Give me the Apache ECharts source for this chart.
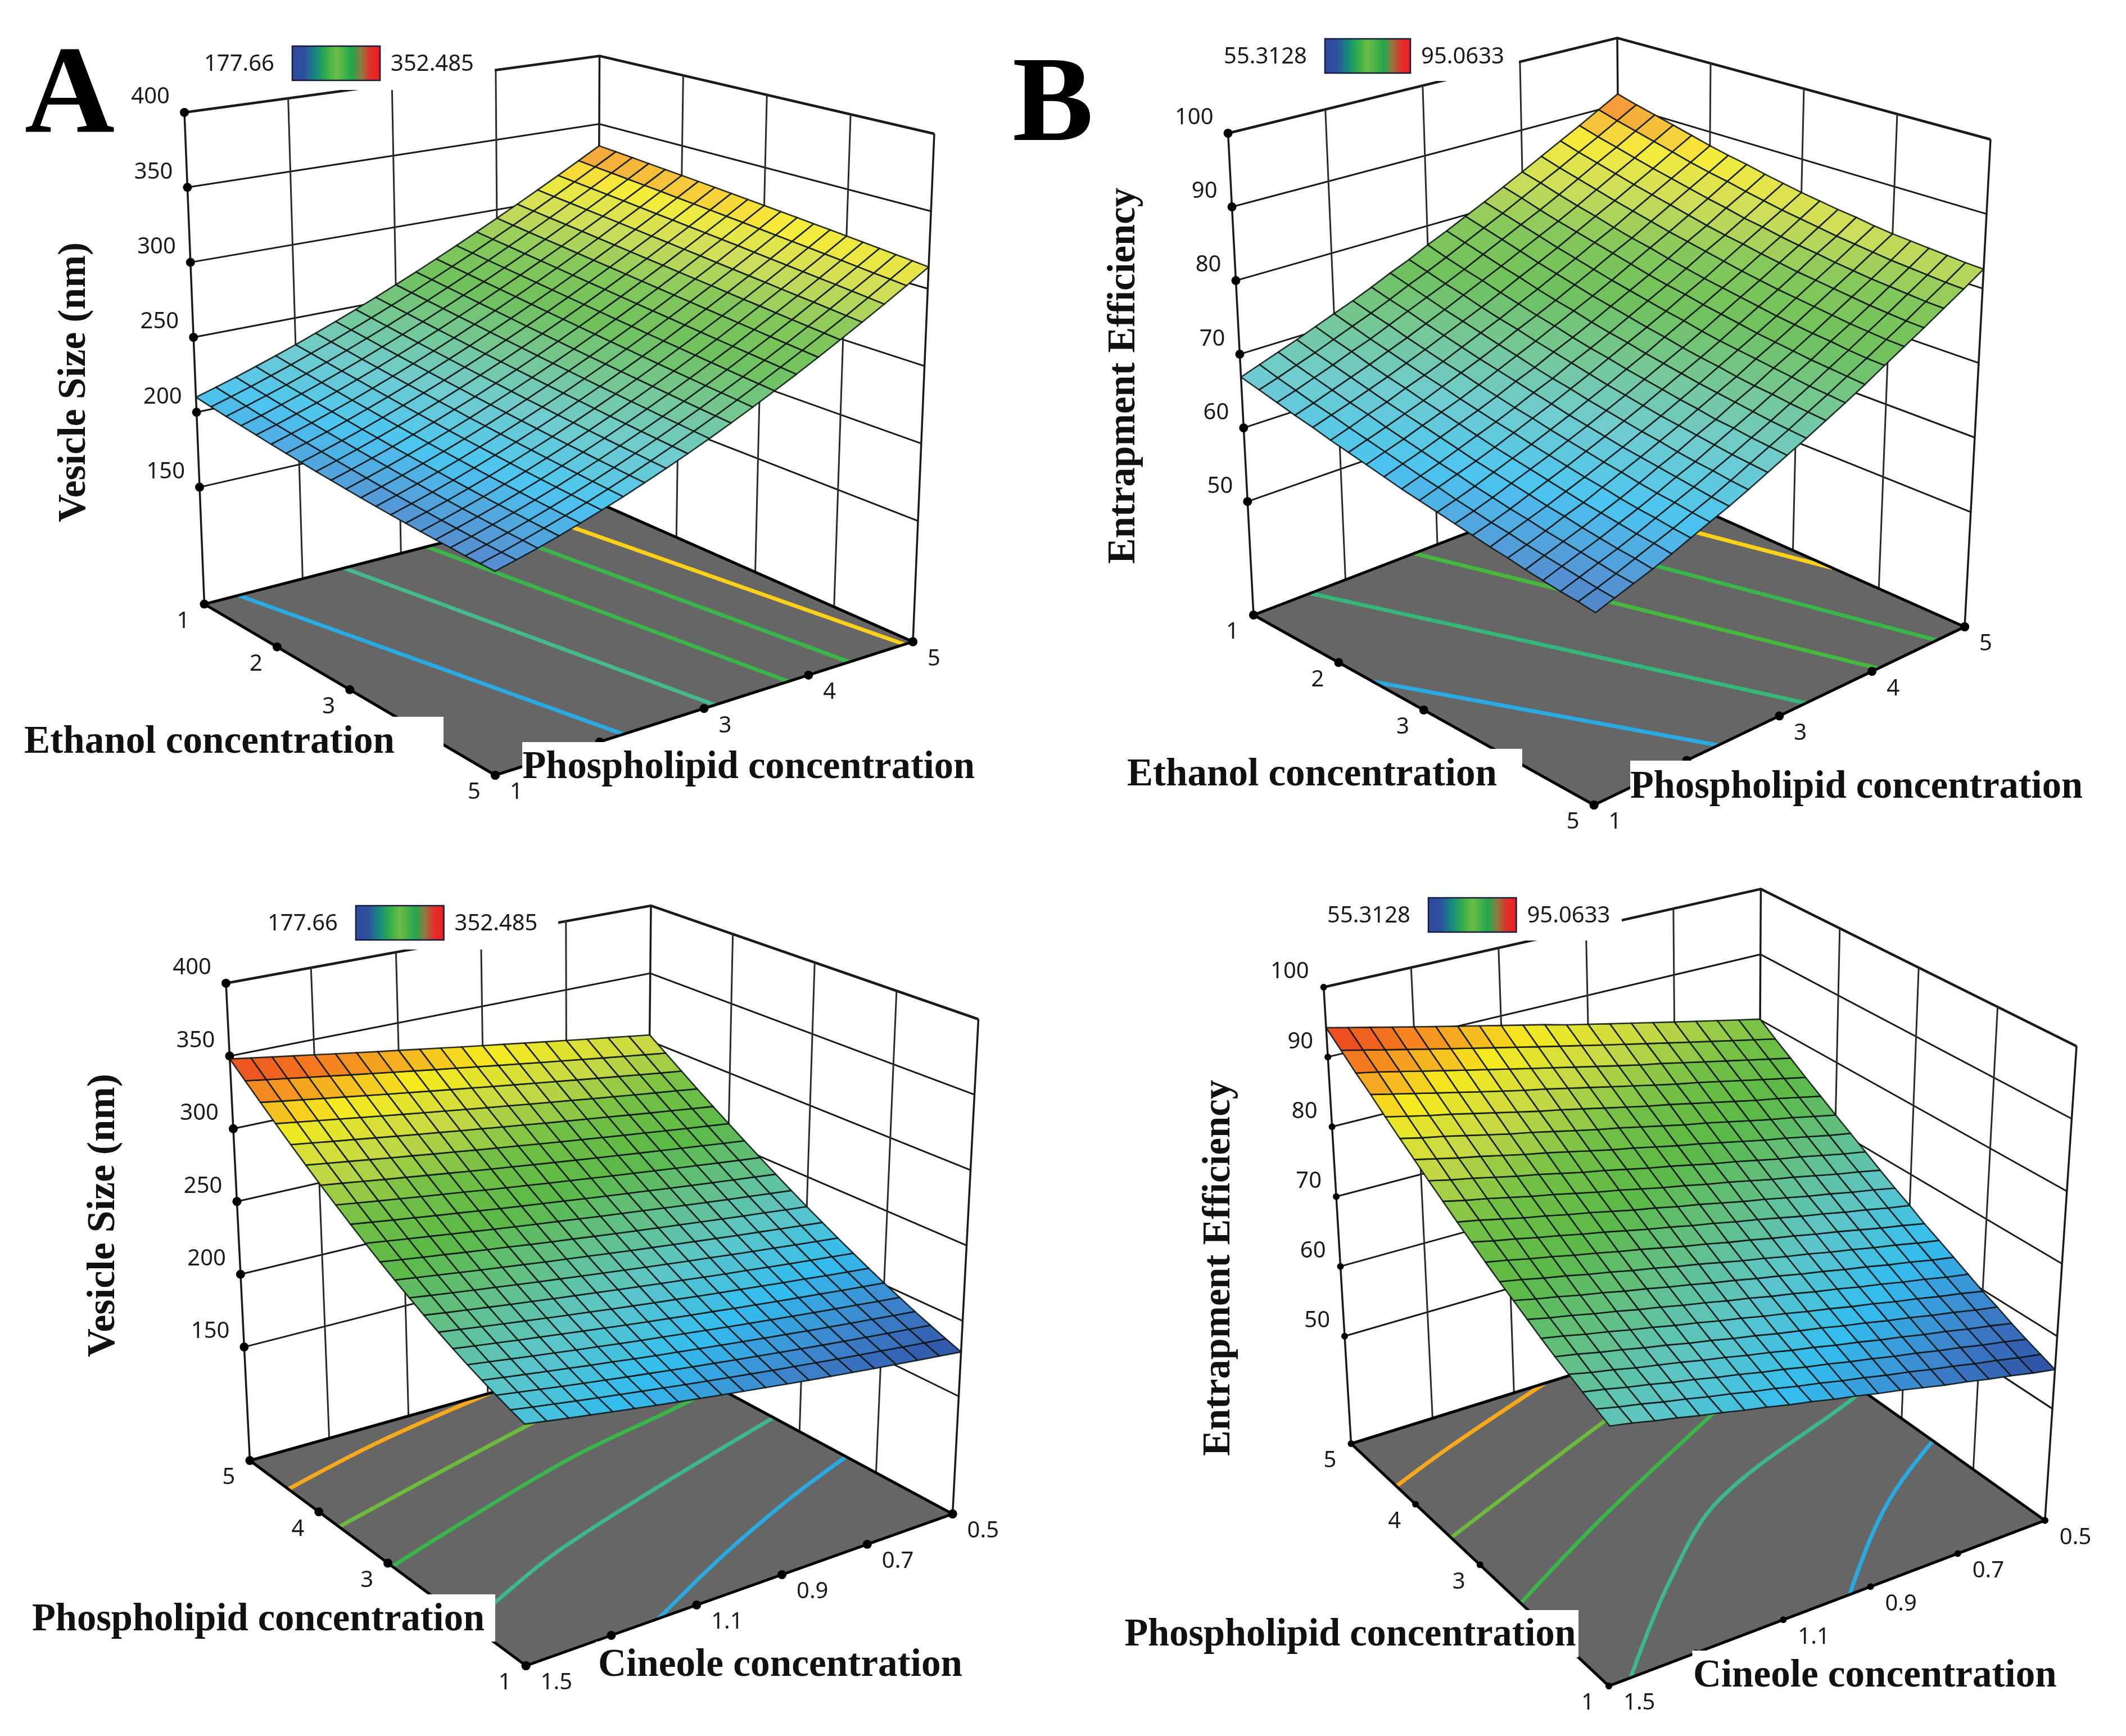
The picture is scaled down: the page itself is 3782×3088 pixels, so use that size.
<!DOCTYPE html><html><head><meta charset="utf-8"><style>html,body{margin:0;background:#fff}#c{width:3782px;height:3088px}</style></head><body><div id="c"></div>
<script src="https://cdn.jsdelivr.net/npm/echarts@6/dist/echarts.min.js"></script>
<script>
const W=3782,H=3088;
const surfaceA=[
[210.0,213.9,218.0,222.4,227.0,231.8,237.0,242.3,247.9,253.7,259.8,266.1,272.7,279.5,286.6,293.9,301.4,309.2,317.2,325.5,334.0],
[208.5,212.4,216.5,220.9,225.5,230.4,235.5,240.9,246.5,252.3,258.4,264.8,271.4,278.2,285.3,292.6,300.2,308.0,316.1,324.4,333.0],
[207.0,210.9,215.1,219.4,224.1,228.9,234.1,239.5,245.1,251.0,257.1,263.5,270.1,276.9,284.1,291.4,299.0,306.9,315.0,323.4,332.0],
[205.7,209.5,213.7,218.1,222.7,227.6,232.7,238.1,243.7,249.6,255.8,262.2,268.8,275.7,282.8,290.2,297.9,305.8,313.9,322.3,331.0],
[204.4,208.2,212.4,216.7,221.4,226.3,231.4,236.8,242.4,248.3,254.5,260.9,267.6,274.5,281.7,289.1,296.8,304.7,312.9,321.3,330.0],
[203.1,207.0,211.1,215.5,220.1,225.0,230.1,235.5,241.2,247.1,253.3,259.7,266.4,273.3,280.5,287.9,295.6,303.6,311.8,320.3,329.0],
[202.0,205.8,209.9,214.3,218.9,223.8,228.9,234.3,240.0,245.9,252.1,258.5,265.2,272.1,279.3,286.8,294.5,302.5,310.7,319.2,328.0],
[200.9,204.7,208.8,213.1,217.7,222.6,227.8,233.1,238.8,244.7,250.9,257.3,264.0,271.0,278.2,285.7,293.4,301.4,309.7,318.2,327.0],
[199.8,203.6,207.7,212.1,216.6,221.5,226.6,232.0,237.7,243.6,249.8,256.2,262.9,269.9,277.1,284.6,292.3,300.4,308.6,317.2,326.0],
[198.9,202.7,206.7,211.0,215.6,220.5,225.6,230.9,236.6,242.5,248.7,255.1,261.8,268.8,276.0,283.5,291.3,299.3,307.6,316.2,325.0],
[198.0,201.8,205.8,210.1,214.6,219.4,224.5,229.9,235.5,241.4,247.6,254.0,260.7,267.7,274.9,282.4,290.2,298.3,306.6,315.2,324.0],
[197.2,200.9,204.9,209.2,213.7,218.5,223.6,228.9,234.5,240.4,246.6,253.0,259.7,266.7,273.9,281.4,289.2,297.2,305.6,314.1,323.0],
[196.4,200.1,204.1,208.3,212.8,217.6,222.7,228.0,233.6,239.4,245.6,252.0,258.7,265.6,272.9,280.4,288.2,296.2,304.5,313.1,322.0],
[195.8,199.4,203.3,207.5,212.0,216.8,221.8,227.1,232.6,238.5,244.6,251.0,257.7,264.6,271.9,279.4,287.1,295.2,303.5,312.1,321.0],
[195.2,198.8,202.6,206.8,211.2,216.0,221.0,226.2,231.8,237.6,243.7,250.1,256.7,263.7,270.9,278.4,286.1,294.2,302.5,311.1,320.0],
[194.6,198.2,202.0,206.1,210.5,215.2,220.2,225.4,230.9,236.7,242.8,249.2,255.8,262.7,269.9,277.4,285.2,293.2,301.5,310.1,319.0],
[194.2,197.7,201.5,205.5,209.9,214.5,219.5,224.7,230.1,235.9,242.0,248.3,254.9,261.8,269.0,276.5,284.2,292.2,300.5,309.1,318.0],
[193.8,197.2,201.0,205.0,209.3,213.9,218.8,223.9,229.4,235.1,241.1,247.4,254.0,260.9,268.1,275.5,283.2,291.3,299.6,308.1,317.0],
[193.4,196.8,200.5,204.5,208.8,213.3,218.1,223.3,228.7,234.4,240.4,246.6,253.2,260.0,267.2,274.6,282.3,290.3,298.6,307.1,316.0],
[193.2,196.5,200.2,204.1,208.3,212.8,217.6,222.6,228.0,233.7,239.6,245.8,252.4,259.2,266.3,273.7,281.4,289.3,297.6,306.2,315.0],
[193.0,196.3,199.8,203.7,207.9,212.3,217.0,222.1,227.4,233.0,238.9,245.1,251.6,258.4,265.4,272.8,280.5,288.4,296.6,305.2,314.0]];
const surfaceB=[
[66.9,67.8,68.7,69.6,70.6,71.6,72.6,73.7,74.9,76.0,77.3,78.5,79.8,81.1,82.5,83.9,85.4,86.9,88.4,90.0,91.6],
[66.3,67.1,68.0,68.9,69.9,70.9,71.9,73.0,74.2,75.3,76.5,77.8,79.1,80.4,81.8,83.2,84.6,86.1,87.6,89.2,90.8],
[65.7,66.5,67.4,68.3,69.3,70.2,71.3,72.4,73.5,74.6,75.8,77.1,78.4,79.7,81.0,82.4,83.9,85.4,86.9,88.5,90.1],
[65.1,65.9,66.8,67.7,68.6,69.6,70.6,71.7,72.8,74.0,75.2,76.4,77.7,79.0,80.3,81.7,83.2,84.7,86.2,87.8,89.4],
[64.6,65.4,66.2,67.1,68.0,69.0,70.0,71.1,72.2,73.3,74.5,75.8,77.0,78.3,79.7,81.1,82.5,84.0,85.5,87.1,88.7],
[64.0,64.8,65.7,66.5,67.5,68.4,69.4,70.5,71.6,72.7,73.9,75.1,76.4,77.7,79.1,80.4,81.9,83.4,84.9,86.4,88.0],
[63.5,64.3,65.1,66.0,66.9,67.9,68.9,69.9,71.0,72.2,73.3,74.5,75.8,77.1,78.5,79.8,81.3,82.8,84.3,85.8,87.4],
[63.0,63.8,64.6,65.5,66.4,67.3,68.3,69.4,70.5,71.6,72.8,74.0,75.2,76.5,77.9,79.3,80.7,82.2,83.7,85.3,86.9],
[62.5,63.3,64.1,65.0,65.9,66.8,67.8,68.9,69.9,71.1,72.2,73.4,74.7,76.0,77.3,78.7,80.2,81.6,83.2,84.7,86.3],
[62.0,62.8,63.6,64.5,65.4,66.3,67.3,68.4,69.4,70.6,71.7,72.9,74.2,75.5,76.8,78.2,79.7,81.1,82.6,84.2,85.8],
[61.6,62.4,63.2,64.0,64.9,65.9,66.9,67.9,69.0,70.1,71.3,72.5,73.7,75.0,76.4,77.7,79.2,80.7,82.2,83.7,85.3],
[61.2,61.9,62.7,63.6,64.5,65.4,66.4,67.4,68.5,69.6,70.8,72.0,73.3,74.6,75.9,77.3,78.7,80.2,81.7,83.3,84.9],
[60.8,61.5,62.3,63.2,64.1,65.0,66.0,67.0,68.1,69.2,70.4,71.6,72.8,74.1,75.5,76.9,78.3,79.8,81.3,82.9,84.5],
[60.4,61.1,61.9,62.8,63.7,64.6,65.6,66.6,67.7,68.8,70.0,71.2,72.4,73.7,75.1,76.5,77.9,79.4,81.0,82.5,84.2],
[60.0,60.8,61.6,62.4,63.3,64.2,65.2,66.2,67.3,68.4,69.6,70.8,72.1,73.4,74.7,76.1,77.6,79.1,80.6,82.2,83.8],
[59.7,60.4,61.2,62.1,62.9,63.9,64.9,65.9,67.0,68.1,69.3,70.5,71.7,73.1,74.4,75.8,77.3,78.8,80.3,81.9,83.5],
[59.3,60.1,60.9,61.7,62.6,63.5,64.5,65.6,66.6,67.8,68.9,70.2,71.4,72.8,74.1,75.5,77.0,78.5,80.0,81.6,83.3],
[59.0,59.8,60.6,61.4,62.3,63.2,64.2,65.3,66.3,67.5,68.7,69.9,71.2,72.5,73.8,75.3,76.7,78.2,79.8,81.4,83.1],
[58.7,59.5,60.3,61.1,62.0,63.0,64.0,65.0,66.1,67.2,68.4,69.6,70.9,72.2,73.6,75.0,76.5,78.0,79.6,81.2,82.9],
[58.5,59.2,60.0,60.9,61.8,62.7,63.7,64.7,65.8,67.0,68.2,69.4,70.7,72.0,73.4,74.8,76.3,77.8,79.4,81.0,82.7],
[58.2,59.0,59.8,60.6,61.5,62.5,63.5,64.5,65.6,66.8,68.0,69.2,70.5,71.8,73.2,74.7,76.2,77.7,79.3,80.9,82.6]];
const surfaceC=[
[348.0,345.8,343.6,341.5,339.3,337.1,334.9,332.7,330.6,328.4,326.2,324.0,321.8,319.7,317.5,315.3,313.1,310.9,308.8,306.6,304.4],
[338.6,336.4,334.3,332.1,330.0,327.8,325.7,323.5,321.4,319.2,317.1,315.0,312.8,310.7,308.5,306.4,304.3,302.1,300.0,297.9,295.8],
[329.5,327.3,325.2,323.1,321.0,318.8,316.7,314.6,312.5,310.4,308.3,306.2,304.1,302.0,299.9,297.8,295.7,293.6,291.5,289.4,287.4],
[320.7,318.6,316.5,314.4,312.3,310.2,308.1,306.0,303.9,301.8,299.7,297.7,295.6,293.5,291.5,289.4,287.4,285.3,283.3,281.3,279.2],
[312.2,310.1,308.0,306.0,303.9,301.8,299.7,297.7,295.6,293.6,291.5,289.5,287.4,285.4,283.4,281.4,279.3,277.3,275.3,273.3,271.3],
[304.1,302.0,300.0,297.9,295.8,293.8,291.7,289.7,287.6,285.6,283.6,281.5,279.5,277.5,275.5,273.5,271.6,269.6,267.6,265.7,263.7],
[296.3,294.3,292.2,290.1,288.1,286.0,284.0,281.9,279.9,277.9,275.9,273.9,271.9,269.9,268.0,266.0,264.1,262.1,260.2,258.2,256.3],
[288.9,286.8,284.7,282.7,280.6,278.6,276.6,274.5,272.5,270.5,268.5,266.6,264.6,262.6,260.7,258.7,256.8,254.9,253.0,251.1,249.2],
[281.8,279.7,277.6,275.6,273.5,271.5,269.5,267.4,265.4,263.5,261.5,259.5,257.5,255.6,253.7,251.7,249.8,247.9,246.0,244.2,242.3],
[275.0,272.9,270.8,268.8,266.7,264.7,262.6,260.6,258.6,256.7,254.7,252.7,250.8,248.9,246.9,245.0,243.1,241.2,239.4,237.5,235.7],
[268.5,266.4,264.3,262.3,260.2,258.2,256.2,254.1,252.1,250.2,248.2,246.2,244.3,242.4,240.5,238.6,236.7,234.8,233.0,231.1,229.3],
[262.4,260.3,258.2,256.1,254.0,252.0,250.0,247.9,246.0,244.0,242.0,240.0,238.1,236.2,234.3,232.4,230.5,228.7,226.8,225.0,223.2],
[256.6,254.4,252.3,250.2,248.2,246.1,244.1,242.1,240.1,238.1,236.1,234.1,232.2,230.3,228.4,226.5,224.6,222.8,220.9,219.1,217.3],
[251.1,248.9,246.8,244.7,242.6,240.6,238.5,236.5,234.5,232.5,230.5,228.5,226.6,224.6,222.7,220.9,219.0,217.1,215.3,213.5,211.7],
[245.9,243.8,241.6,239.5,237.4,235.3,233.2,231.2,229.1,227.1,225.1,223.2,221.2,219.3,217.4,215.5,213.6,211.8,209.9,208.1,206.3],
[241.1,238.9,236.8,234.6,232.5,230.4,228.3,226.2,224.1,222.1,220.1,218.1,216.2,214.2,212.3,210.4,208.5,206.7,204.8,203.0,201.2],
[236.6,234.4,232.2,230.0,227.9,225.7,223.6,221.5,219.4,217.4,215.4,213.4,211.4,209.4,207.5,205.6,203.7,201.8,200.0,198.1,196.3],
[232.5,230.2,228.0,225.8,223.6,221.4,219.3,217.1,215.0,213.0,210.9,208.9,206.9,204.9,203.0,201.0,199.1,197.2,195.4,193.5,191.7],
[228.7,226.4,224.1,221.8,219.6,217.4,215.2,213.1,210.9,208.8,206.8,204.7,202.7,200.7,198.7,196.7,194.8,192.9,191.0,189.2,187.4],
[225.2,222.8,220.5,218.2,215.9,213.7,211.5,209.3,207.1,205.0,202.9,200.8,198.7,196.7,194.7,192.7,190.8,188.9,187.0,185.1,183.3],
[222.0,219.6,217.2,214.9,212.6,210.3,208.0,205.8,203.6,201.4,199.3,197.2,195.1,193.0,191.0,189.0,187.0,185.1,183.2,181.3,179.4]];
const surfaceD=[
[94.2,93.5,92.8,92.1,91.4,90.7,90.0,89.3,88.6,87.9,87.2,86.4,85.7,85.0,84.3,83.6,82.9,82.2,81.5,80.8,80.1],
[92.4,91.7,91.0,90.3,89.6,88.9,88.2,87.5,86.8,86.1,85.4,84.7,84.0,83.3,82.6,81.9,81.2,80.5,79.8,79.1,78.4],
[90.6,90.0,89.3,88.6,87.9,87.2,86.5,85.8,85.1,84.4,83.7,83.0,82.3,81.6,81.0,80.3,79.6,78.9,78.2,77.5,76.8],
[89.0,88.3,87.6,86.9,86.2,85.5,84.8,84.1,83.5,82.8,82.1,81.4,80.7,80.0,79.3,78.7,78.0,77.3,76.6,75.9,75.2],
[87.3,86.6,85.9,85.3,84.6,83.9,83.2,82.5,81.9,81.2,80.5,79.8,79.1,78.5,77.8,77.1,76.4,75.7,75.1,74.4,73.7],
[85.7,85.0,84.4,83.7,83.0,82.3,81.7,81.0,80.3,79.6,79.0,78.3,77.6,76.9,76.3,75.6,74.9,74.2,73.6,72.9,72.2],
[84.2,83.5,82.8,82.2,81.5,80.8,80.2,79.5,78.8,78.1,77.5,76.8,76.1,75.5,74.8,74.1,73.4,72.8,72.1,71.4,70.8],
[82.7,82.0,81.4,80.7,80.0,79.4,78.7,78.0,77.4,76.7,76.0,75.4,74.7,74.0,73.4,72.7,72.0,71.4,70.7,70.0,69.4],
[81.3,80.6,80.0,79.3,78.6,78.0,77.3,76.6,76.0,75.3,74.6,74.0,73.3,72.7,72.0,71.3,70.7,70.0,69.3,68.7,68.0],
[79.9,79.3,78.6,77.9,77.3,76.6,76.0,75.3,74.6,74.0,73.3,72.7,72.0,71.3,70.7,70.0,69.3,68.7,68.0,67.4,66.7],
[78.6,77.9,77.3,76.6,76.0,75.3,74.7,74.0,73.3,72.7,72.0,71.4,70.7,70.1,69.4,68.7,68.1,67.4,66.8,66.1,65.5],
[77.3,76.7,76.0,75.4,74.7,74.1,73.4,72.8,72.1,71.4,70.8,70.1,69.5,68.8,68.2,67.5,66.9,66.2,65.5,64.9,64.2],
[76.1,75.5,74.8,74.2,73.5,72.9,72.2,71.6,70.9,70.3,69.6,68.9,68.3,67.6,67.0,66.3,65.7,65.0,64.4,63.7,63.1],
[75.0,74.3,73.7,73.0,72.4,71.7,71.1,70.4,69.8,69.1,68.5,67.8,67.2,66.5,65.9,65.2,64.6,63.9,63.3,62.6,62.0],
[73.9,73.2,72.6,71.9,71.3,70.6,70.0,69.3,68.7,68.0,67.4,66.7,66.1,65.4,64.8,64.1,63.5,62.8,62.2,61.5,60.9],
[72.8,72.2,71.5,70.9,70.2,69.6,68.9,68.3,67.6,67.0,66.3,65.7,65.0,64.4,63.7,63.1,62.4,61.8,61.1,60.5,59.8],
[71.8,71.2,70.5,69.9,69.2,68.6,67.9,67.3,66.6,66.0,65.3,64.7,64.1,63.4,62.8,62.1,61.5,60.8,60.2,59.5,58.9],
[70.9,70.2,69.6,68.9,68.3,67.7,67.0,66.4,65.7,65.1,64.4,63.8,63.1,62.5,61.8,61.2,60.5,59.9,59.2,58.6,57.9],
[70.0,69.4,68.7,68.1,67.4,66.8,66.1,65.5,64.8,64.2,63.5,62.9,62.2,61.6,60.9,60.3,59.6,59.0,58.3,57.7,57.0],
[69.2,68.5,67.9,67.2,66.6,65.9,65.3,64.6,64.0,63.3,62.7,62.0,61.4,60.7,60.1,59.4,58.8,58.1,57.5,56.8,56.2],
[68.4,67.8,67.1,66.5,65.8,65.2,64.5,63.9,63.2,62.6,61.9,61.3,60.6,60.0,59.3,58.6,58.0,57.3,56.7,56.0,55.4]];
const contoursA=[[[1,1.346],[5,2.228]],[[1,2.42],[5,3.104]],[[1,3.26],[5,3.81]],[[1,3.92],[5,4.392]],[[1,4.44],[5,4.92]]];
const contoursB=[[[2.4,1],[5,2.34]],[[1,1.615],[5,3.288]],[[1,2.746],[5,4.068]],[[1,3.612],[5,4.7]],[[1,4.344],[3.46,5]]];
const contoursC=[[[4.442,1.5],[4.745,1.218],[5,.894]],[[3.708,1.5],[4.35,.921],[4.52,.74]],[[2.936,1.5],[3.645,.962],[3.976,.599],[4.1,.5]],[[1.8,1.5],[2.424,1.177],[3.34,.5]],[[1,1.189],[1.564,.94],[2.038,.703],[2.392,.5]]];
const contoursD=[[[4.298,1.5],[4.578,1.322],[5,1.0245]],[[3.448,1.5],[4.253,1.008],[4.4,.9]],[[2.368,1.5],[3.056,1.2015],[3.896,.802],[4.12,.69]],[[1,1.45],[1.97,1.214],[2.772,.97],[3.476,.539],[3.56,.5]],[[1,.948],[1.658,.79],[2.109,.662],[2.564,.5]]];
const contourColorsA=['#29abe2','#45b98a','#39b54a','#39b54a','#fcd116'];
const contourColorsB=['#29abe2','#35b779','#45b93c','#39b54a','#fcd116'];
const contourColorsCD=['#f7a81b','#6dbb3c','#39b54a','#3cb88a','#29abe2'];
const ticksEthanol=[1,2,3,4,5],ticksPhospholipid=[1,2,3,4,5],ticksPhospholipidDesc=[5,4,3,2,1],ticksCineole=[1.5,1.3,1.1,.9,.7,.5];
const zTicksSize=[150,200,250,300,350,400],zTicksEff=[50,60,70,80,90,100];
const rangeSize=[177.66,352.485],rangeEff=[55.3128,95.0633];
const rangeLabelsSize=['177.66','352.485'],rangeLabelsEff=['55.3128','95.0633'];
const surfaceRamp=['#2e4b9f','#3d82cb','#34bdee','#5cc5c8','#62bf85','#5cb947','#72bf45','#c5d845','#f5ea20','#f47c20','#e41f1f'];
const legendStops=[[0,'#2f4b9f'],[.14,'#2f4fa0'],[.27,'#158a80'],[.38,'#2fab4a'],[.5,'#6cbd45'],[.68,'#22a54d'],[.78,'#8f7a40'],[.88,'#e0302a'],[1,'#ed1c24']];
const panels=[
{tag:'A',wash:.12,surface:surfaceA,contours:contoursA,cc:contourColorsA,a1:[1,5],a2:[1,5],t1:ticksEthanol,t2:ticksPhospholipid,zt:zTicksSize,zr:[72,400],range:rangeSize,rl:rangeLabelsSize,dot:8,
 L:[363.5,1074.6],F:[881,1379],R:[1624,1141.5],B:[1063,894],Lt:[328,200],Ft:[880,395.4],Rt:[1662,238],Bt:[1066.5,99.5],
 mask:[340,60,880,160],bar:[520,82,676,143],
 masks:[[30,1275,789,1345],[929,1320,1760,1385]],
 titles:[{s:'Ethanol concentration',x0:43,x1:702,y:1321},{s:'Phospholipid concentration',x0:929.5,x1:1734,y:1366},{s:'Vesicle Size (nm)',rot:1,x:133,y0:431,y1:929}],
 big:{s:'A',x:124,y:178,size:222}},
{tag:'B',wash:.12,surface:surfaceB,contours:contoursB,cc:contourColorsB,a1:[1,5],a2:[1,5],t1:ticksEthanol,t2:ticksPhospholipid,zt:zTicksEff,zr:[34.6,100],range:rangeEff,rl:rangeLabelsEff,dot:8,
 L:[2230,1094],F:[2835.6,1432],R:[3495,1115],B:[2884,843],Lt:[2184.6,237],Ft:[2843.2,483.5],Rt:[3541,248],Bt:[2877,67.5],
 mask:[2200,30,2702,144],bar:[2357,69,2509,130],
 masks:[[1985,1332,2708,1405],[2900,1353,3720,1425]],
 titles:[{s:'Ethanol concentration',x0:2005,x1:2663,y:1379},{s:'Phospholipid concentration',x0:2900,x1:3705,y:1401},{s:'Entrapment Efficiency',rot:1,x:2000,y0:334,y1:1003}],
 big:{s:'B',x:1873,y:193,size:216}},
{tag:'C',wash:0,surface:surfaceC,contours:contoursC,cc:contourColorsCD,a1:[5,1],a2:[1.5,.5],t1:ticksPhospholipidDesc,t2:ticksCineole,zt:zTicksSize,zr:[72,400],range:rangeSize,rl:rangeLabelsSize,dot:8,
 L:[444.5,2598],F:[935.6,2963],R:[1694.6,2693],B:[1150,2400],Lt:[402,1749],Ft:[931,2023],Rt:[1740.5,1813],Bt:[1158,1611],
 mask:[430,1590,993,1689],bar:[633,1611,789.5,1672],
 masks:[[40,2836,881,2920],[1060,2920,1725,2995]],
 titles:[{s:'Phospholipid concentration',x0:57,x1:862,y:2882},{s:'Cineole concentration',x0:1064,x1:1712,y:2963},{s:'Vesicle Size (nm)',rot:1,x:185,y0:1910,y1:2414}]},
{tag:'D',wash:0,surface:surfaceD,contours:contoursD,cc:contourColorsCD,a1:[5,1],a2:[1.5,.5],t1:ticksPhospholipidDesc,t2:ticksCineole,zt:zTicksEff,zr:[34.6,100],range:rangeEff,rl:rangeLabelsEff,dot:6,
 L:[2403.5,2568],F:[2862,2999],R:[3637.8,2704.5],B:[3128,2342],Lt:[2354.7,1756],Ft:[2865,2104.1],Rt:[3694,1861],Bt:[3132.4,1581.4],
 mask:[2380,1580,2885,1673],bar:[2541,1597,2697.4,1658],
 masks:[[1985,2864,2808,2948],[3010.5,2936,3675,3010]],
 titles:[{s:'Phospholipid concentration',x0:2000.5,x1:2803.6,y:2909},{s:'Cineole concentration',x0:3012,x1:3658.6,y:2982},{s:'Entrapment Efficiency',rot:1,x:2169,y0:1921,y1:2590}]}
];
const SANS='"Noto Sans"',SERIF='"Liberation Serif"';
const meas=document.createElement('canvas').getContext('2d');
function natural(s,font){meas.font=font;return meas.measureText(s).width}
function project(p,a1,a2,z){
 const u=(a1-p.a1[0])/(p.a1[1]-p.a1[0]),v=(a2-p.a2[0])/(p.a2[1]-p.a2[0]),w=(z-p.zr[0])/(p.zr[1]-p.zr[0]);
 return [0,1].map(k=>{const fl=(1-u)*(1-v)*p.L[k]+u*(1-v)*p.F[k]+u*v*p.R[k]+(1-u)*v*p.B[k];const tp=(1-u)*(1-v)*p.Lt[k]+u*(1-v)*p.Ft[k]+u*v*p.Rt[k]+(1-u)*v*p.Bt[k];return fl+(tp-fl)*w})}
function basePrims(p){
 const z0=p.zr[0],z1=p.zr[1],[a0,a9]=p.a1,[b0,b9]=p.a2,out=[];
 const P=(a,b,z)=>project(p,a,b,z);
 const line=(pts,w,c,sm)=>out.push({t:'l',pts,w,c:c||'#1a1a1a',sm:sm||0});
 p.zt.forEach(z=>{line([P(a0,b0,z),P(a0,b9,z),P(a9,b9,z)],z==z1?4.5:3)});
 p.t2.forEach(b=>{if(b!=b0&&b!=b9)line([P(a0,b,z0),P(a0,b,z1)],3,'#2a2a2a')});
 p.t1.forEach(a=>{if(a!=a0&&a!=a9)line([P(a,b9,z0),P(a,b9,z1)],3,'#2a2a2a')});
 line([P(a0,b0,z0),P(a0,b0,z1)],3.5);line([P(a0,b9,z0),P(a0,b9,z1)],3.5);line([P(a9,b9,z0),P(a9,b9,z1)],3.5);
 out.push({t:'p',pts:[P(a0,b0,z0),P(a9,b0,z0),P(a9,b9,z0),P(a0,b9,z0)],f:'#666666'});
 p.contours.forEach((c,i)=>line(c.map(q=>P(q[0],q[1],z0)),7,p.cc[i],.35));
 line([P(a0,b0,z0),P(a9,b0,z0),P(a9,b9,z0),P(a0,b9,z0),P(a0,b0,z0)],5,'#000');
 const lab=(xy,dx,dy,s,al)=>out.push({t:'t',xy:[xy[0]+dx,xy[1]+dy],s,al});
 p.zt.forEach(z=>{const q=P(a0,b0,z);out.push({t:'c',xy:q,r:p.dot});lab(q,-26,-27,String(z),'right')});
 p.t1.forEach(a=>{const q=P(a,b0,z0);out.push({t:'c',xy:q,r:p.dot});lab(q,-26,31,String(a),'right')});
 p.t2.forEach(b=>{const q=P(a9,b,z0);out.push({t:'c',xy:q,r:p.dot});lab(q,26,31,String(b),'left')});
 out.push({t:'c',xy:P(a9,b9,z0),r:p.dot});
 return out}
function renderBase(prims){return function(params,api){
 const o=prims[params.dataIndex],C=a=>api.coord(a);
 if(o.t=='l')return{type:'polyline',shape:{points:o.pts.map(C),smooth:o.sm},style:{stroke:o.c,lineWidth:o.w,fill:null,lineJoin:'miter'},silent:true};
 if(o.t=='p')return{type:'polygon',shape:{points:o.pts.map(C)},style:{fill:o.f},silent:true};
 if(o.t=='c'){const c=C(o.xy);return{type:'circle',shape:{cx:c[0],cy:c[1],r:o.r},style:{fill:'#000'},silent:true}}
 if(o.t=='t'){const c=C(o.xy);return{type:'text',x:c[0],y:c[1],style:{text:o.s,font:'40px '+SANS,fill:'#1a1a1a',align:o.al,verticalAlign:'middle'},silent:true}}
}}
function surfaceCells(p){const n=p.surface.length-1,out=[];
 for(let i=n-1;i>=0;i--)for(let j=n-1;j>=0;j--)out.push([i,j]);return out}
function renderSurface(p){const n=p.surface.length-1,da=(p.a1[1]-p.a1[0])/n,db=(p.a2[1]-p.a2[0])/n,S=p.surface;
 return function(params,api){const i=api.value(0),j=api.value(1);
  const cn=[[i,j],[i+1,j],[i+1,j+1],[i,j+1]];
  const pts=cn.map(([a,b])=>api.coord(project(p,p.a1[0]+a*da,p.a2[0]+b*db,S[a][b])));
  const avg=cn.reduce((s,[a,b])=>s+S[a][b],0)/4;
  const t=Math.max(0,Math.min(1,(avg-p.range[0])/(p.range[1]-p.range[0])));
  let fill=echarts.color.lerp(t,surfaceRamp);
  if(p.wash)fill=echarts.color.lerp(p.wash,[fill,'#ffffff']);
  return{type:'polygon',shape:{points:pts},style:{fill,stroke:'rgba(12,22,20,.88)',lineWidth:2.6,lineJoin:'round'},silent:true}}}
function overlayItems(p){const out=[];
 const rect=(r,f)=>out.push({t:'r',r,f});
 rect(p.mask,'#fff');p.masks.forEach(m=>rect(m,'#fff'));
 out.push({t:'b',r:p.bar});
 const cy=(p.bar[1]+p.bar[3])/2+2;
 out.push({t:'x',x:p.bar[0]-32,y:cy,s:p.rl[0],al:'right',font:'40px '+SANS});
 out.push({t:'x',x:p.bar[2]+19,y:cy,s:p.rl[1],al:'left',font:'40px '+SANS});
 p.titles.forEach(t=>{const size=69,font='bold '+size+'px '+SERIF,nat=natural(t.s,font);
  if(t.rot)out.push({t:'x',x:t.x,y:(t.y0+t.y1)/2,s:t.s,al:'center',font,rot:Math.PI/2,sx:(t.y1-t.y0)/nat,fill:'#111'});
  else out.push({t:'x',x:(t.x0+t.x1)/2,y:t.y,s:t.s,al:'center',font,sx:(t.x1-t.x0)/nat,fill:'#111'})});
 if(p.big)out.push({t:'x',x:p.big.x,y:p.big.y,s:p.big.s,al:'center',font:'bold '+p.big.size+'px '+SERIF,fill:'#000'});
 return out}
function renderOverlay(items){return function(params,api){const o=items[params.dataIndex];
 if(o.t=='r'||o.t=='b'){const a=api.coord([o.r[0],o.r[1]]),b=api.coord([o.r[2],o.r[3]]);
  const fill=o.t=='b'?new echarts.graphic.LinearGradient(0,0,1,0,legendStops.map(s=>({offset:s[0],color:s[1]}))):o.f;
  return{type:'rect',shape:{x:a[0],y:a[1],width:b[0]-a[0],height:b[1]-a[1]},style:{fill,stroke:o.t=='b'?'#1a1a3a':null,lineWidth:o.t=='b'?2.5:0},silent:true}}
 const c=api.coord([o.x,o.y]);
 return{type:'text',x:c[0],y:c[1],rotation:o.rot||0,scaleX:o.sx||1,style:{text:o.s,font:o.font,fill:o.fill||'#1a1a1a',align:o.al,verticalAlign:'middle'},silent:true}}}
const series=[];
panels.forEach(p=>{
 const base=basePrims(p),over=overlayItems(p),cells=surfaceCells(p);
 const common={type:'custom',coordinateSystem:'cartesian2d',clip:false,silent:true,animation:false,progressive:0,encode:{x:0,y:1}};
 series.push({...common,name:p.tag+' frame',data:base.map((_,i)=>[i,i]),renderItem:renderBase(base),z:2});
 series.push({...common,name:p.tag+' surface',data:cells,renderItem:renderSurface(p),z:3});
 series.push({...common,name:p.tag+' overlay',data:over.map((_,i)=>[i,i]),renderItem:renderOverlay(over),z:4});
});
const chart=echarts.init(document.getElementById('c'),null,{renderer:'canvas',width:W,height:H});
chart.setOption({backgroundColor:'#fff',animation:false,grid:{left:0,right:0,top:0,bottom:0},
 xAxis:{type:'value',min:0,max:W,show:false},yAxis:{type:'value',min:0,max:H,inverse:true,show:false},series});
</script></body></html>
